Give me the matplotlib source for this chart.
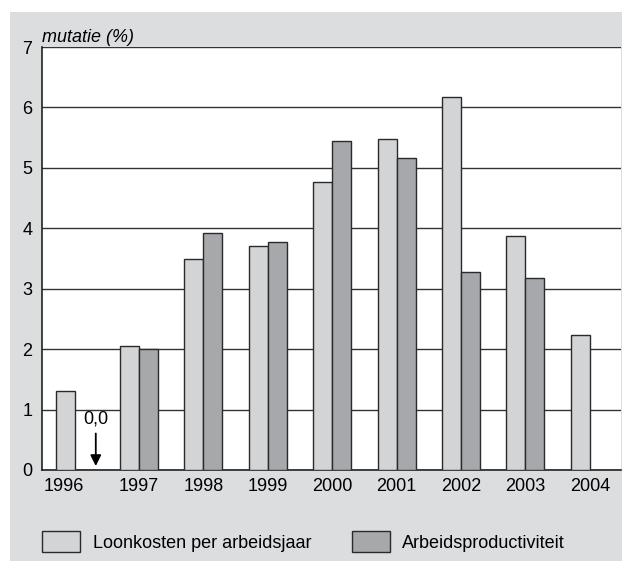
#!/usr/bin/env python3

import numpy as np
import matplotlib.pyplot as plt
from matplotlib.patches import Rectangle

plt.rcParams['font.family'] = ['Liberation Sans', 'DejaVu Sans']

# data
jaren = ['1996', '1997', '1998', '1999', '2000', '2001', '2002', '2003', '2004']
loonkosten = [1.3, 2.05, 3.5, 3.7, 4.77, 5.47, 6.17, 3.87, 2.23]
productiviteit = [0.0, 2.0, 3.92, 3.77, 5.45, 5.17, 3.27, 3.17, np.nan]
yticks = [0, 1, 2, 3, 4, 5, 6, 7]

licht = '#d3d4d6'
donker = '#a7a8ab'
rand = '#2a2a2a'
paneel = '#dcdddf'
fs = 13

fig = plt.figure(figsize=(6.22, 5.61), dpi=100, facecolor='white')

# grijs achtergrondpaneel
fig.patches.append(Rectangle((10 / 622, 0), 1 - 10 / 622, (561 - 12) / 561,
                             transform=fig.transFigure, facecolor=paneel,
                             edgecolor='none', zorder=-5))

ax = fig.add_axes([42 / 622, (561 - 470) / 561, (621 - 42) / 622, (470 - 47) / 561])
ax.set_zorder(2)
ax.set_facecolor('white')

x = np.arange(len(jaren))
w = 0.295
ax.bar(x - w / 2, loonkosten, w, color=licht, edgecolor=rand, linewidth=1.0,
       zorder=3, label='Loonkosten per arbeidsjaar')
ax.bar(x + w / 2, productiviteit, w, color=donker, edgecolor=rand, linewidth=1.0,
       zorder=3, label='Arbeidsproductiviteit')

ax.set_ylim(0, 7)
ax.set_xlim(-0.505, 8.485)
ax.set_yticks(yticks)
ax.set_yticklabels([str(t) for t in yticks], fontsize=fs)
ax.yaxis.grid(True, color='#333333', linewidth=1.0, zorder=1)
ax.set_axisbelow(True)

xt = x.astype(float)
xt[0] = xt[0] - 0.17
ax.set_xticks(xt)
ax.set_xticklabels(jaren, fontsize=fs)
ax.tick_params(length=0, pad=6)
ax.tick_params(axis='y', pad=7)

for s in ['top', 'right']:
    ax.spines[s].set_visible(False)
ax.spines['left'].set_color('#222222')
ax.spines['bottom'].set_color('#222222')
ax.spines['left'].set_linewidth(1.2)
ax.spines['bottom'].set_linewidth(1.2)

ax.text(0.0, 1.003, 'mutatie (%)', transform=ax.transAxes, fontsize=fs,
        style='italic', ha='left', va='bottom')

# 0,0 annotatie voor 1996
ax.annotate('', xy=(0.33, 0.02), xytext=(0.33, 0.65),
            arrowprops=dict(arrowstyle='-|>', color='black', lw=1.3,
                            mutation_scale=16), zorder=4)
ax.text(0.33, 0.7, '0,0', fontsize=fs, ha='center', va='bottom', zorder=4)

fig.legend(loc='lower left', bbox_to_anchor=(42 / 622, 9 / 561), ncol=2,
           frameon=False, fontsize=fs, handlelength=2.1, handleheight=1.4,
           columnspacing=2.25, handletextpad=0.7, borderpad=0, borderaxespad=0)

plt.savefig('out.png', dpi=100, facecolor='white')
